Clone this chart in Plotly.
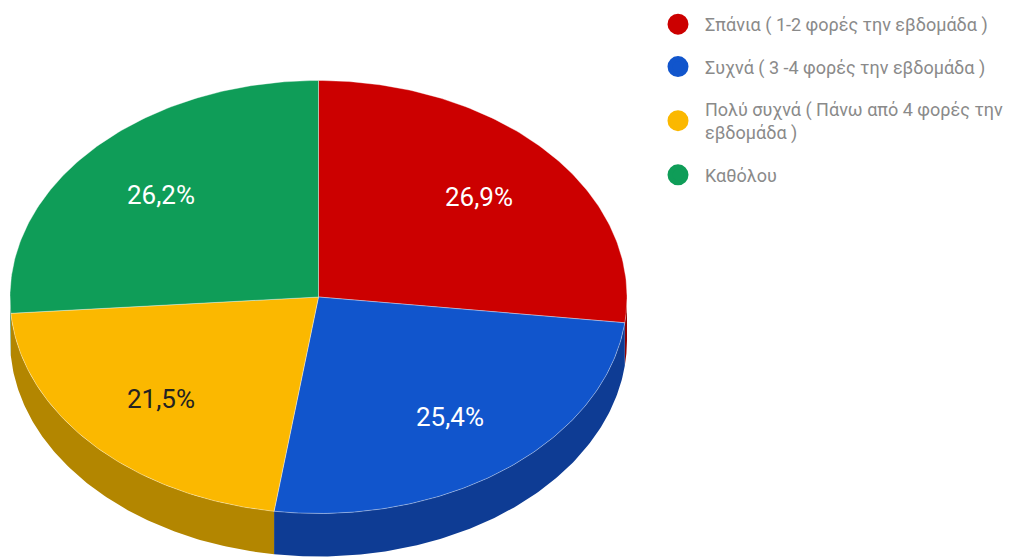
import numpy as np
import plotly.graph_objects as go

categories = ["Σπάνια ( 1-2 φορές την εβδομάδα )", "Συχνά ( 3 -4 φορές την εβδομάδα )",
              "Πολύ συχνά ( Πάνω από 4 φορές την<br>εβδομάδα )", "Καθόλου"]
values = [26.9, 25.4, 21.5, 26.2]
labels = ["26,9%", "25,4%", "21,5%", "26,2%"]
top_colors = ["#cc0000", "#1155cc", "#fbb800", "#0f9d58"]
side_colors = ["#8f0000", "#0e3c94", "#b38600", "#0b6e3e"]
label_colors = ["#ffffff", "#ffffff", "#222222", "#ffffff"]
label_pos = [(479, 197), (450, 417), (161, 399), (161, 195)]

CX, CY, RX, RY, DEPTH = 318.5, 297, 308.5, 216.5, 43


def arc(a0, a1):
    t = np.radians(np.linspace(a0, a1, 120))
    return CX + RX * np.sin(t), CY - RY * np.cos(t)


fig = go.Figure()
edges = np.cumsum([0] + values) * 3.6

# side walls (only the front half of the rim, 90-270 degrees)
for i, c in enumerate(side_colors):
    a0, a1 = max(edges[i], 90), min(edges[i + 1], 270)
    if a1 > a0:
        x, y = arc(a0, a1)
        fig.add_trace(go.Scatter(
            x=np.r_[x, x[::-1]], y=np.r_[y, y[::-1] + DEPTH],
            mode="lines", fill="toself", fillcolor=c, line=dict(width=0),
            showlegend=False, hoverinfo="skip"))

# top faces
for i, c in enumerate(top_colors):
    x, y = arc(edges[i], edges[i + 1])
    fig.add_trace(go.Scatter(
        x=np.r_[CX, x, CX], y=np.r_[CY, y, CY],
        mode="lines", fill="toself", fillcolor=c,
        line=dict(width=0.8, color="rgba(255,255,255,0.45)"),
        showlegend=False, hoverinfo="skip"))

# legend
for i, name in enumerate(categories):
    fig.add_trace(go.Scatter(
        x=[None], y=[None], mode="markers", name=name, legendgroup=str(i),
        marker=dict(color=top_colors[i], size=16, symbol="circle",
                    line=dict(width=5, color=top_colors[i]))))

for (px, py), t, c in zip(label_pos, labels, label_colors):
    fig.add_annotation(x=px, y=py, text=t, showarrow=False,
                       font=dict(family="Roboto", size=26, color=c))

fig.update_layout(
    width=1009, height=557, margin=dict(l=0, r=0, t=0, b=0),
    paper_bgcolor="white", plot_bgcolor="white",
    xaxis=dict(range=[0, 1009], visible=False, fixedrange=True),
    yaxis=dict(range=[557, 0], visible=False, fixedrange=True),
    legend=dict(x=651 / 1009, y=1 - 6 / 557, xanchor="left", yanchor="top",
                itemwidth=44, itemsizing="trace",
                font=dict(family="Roboto", size=18, color="#8a8a8a"),
                tracegroupgap=16, bgcolor="rgba(0,0,0,0)"),
)
fig.write_html("out.html", config=dict(displayModeBar=False),
               post_script="document.body.style.margin='0';")
